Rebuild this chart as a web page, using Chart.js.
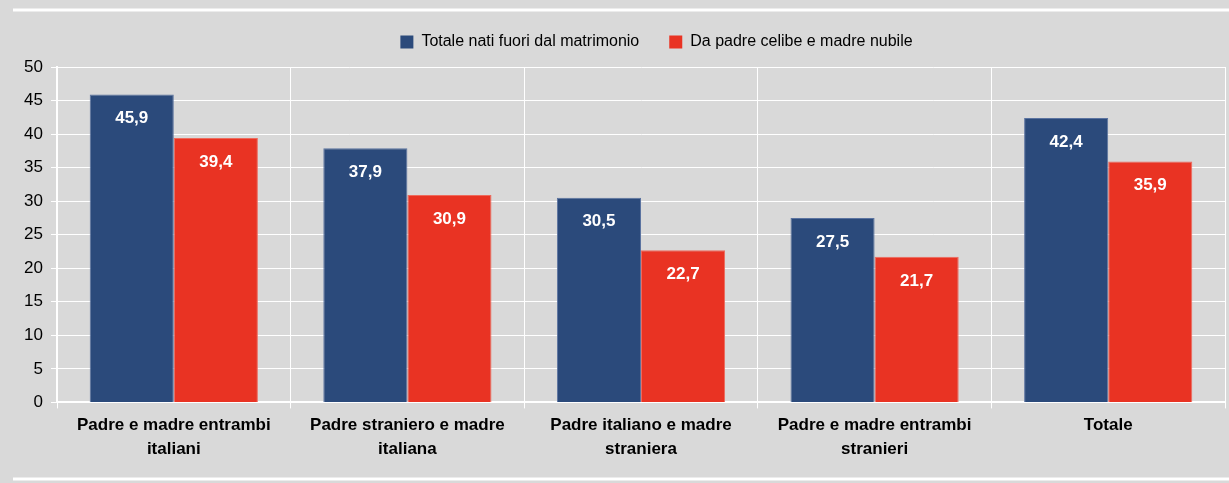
<!DOCTYPE html>
<html>
<head>
<meta charset="utf-8">
<script src="https://cdn.jsdelivr.net/npm/chart.js@4/dist/chart.umd.min.js"></script>
<style>
  html, body { margin: 0; padding: 0; background: #d9d9d9; }
  #wrap { position: relative; width: 1229px; height: 483px; }
</style>
</head>
<body>
<div id="wrap"><canvas id="bar-chart" width="1229" height="483"></canvas></div>
<script>
const categories = [
  ["Padre e madre entrambi", "italiani"],
  ["Padre straniero e madre", "italiana"],
  ["Padre italiano e madre", "straniera"],
  ["Padre e madre entrambi", "stranieri"],
  "Totale"
];
const seriesNames = ["Totale nati fuori dal matrimonio", "Da padre celibe e madre nubile"];
const totaleNati = [45.9, 37.9, 30.5, 27.5, 42.4];
const celibeNubile = [39.4, 30.9, 22.7, 21.7, 35.9];
const yTicks = [0, 5, 10, 15, 20, 25, 30, 35, 40, 45, 50];

const FONT = "'Liberation Sans', Arial, sans-serif";

// sfondo grigio e righe bianche sopra e sotto
const backdrop = {
  id: "backdrop",
  beforeDraw(chart) {
    const c = chart.ctx;
    c.save();
    c.fillStyle = "#d9d9d9";
    c.fillRect(0, 0, chart.width, chart.height);
    c.strokeStyle = "#ffffff";
    c.lineWidth = 3;
    c.beginPath();
    c.moveTo(13, 10); c.lineTo(chart.width, 10);
    c.moveTo(13, 479); c.lineTo(chart.width, 479);
    c.stroke();
    c.restore();
  }
};

// altezza fissa della legenda e leggero spostamento a destra
const legendFit = {
  id: "legendFit",
  beforeLayout(chart) {
    const lg = chart.legend;
    if (lg && !lg._patched) {
      lg._patched = true;
      const origFit = lg.fit;
      lg.fit = function () { origFit.call(this); this.height = 63; };
    }
  },
  afterLayout(chart) {
    if (chart.legend) {
      chart.legend.left += 40;
      chart.legend.right += 40;
    }
  }
};

// etichette dei valori dentro le barre
const valueLabels = {
  id: "valueLabels",
  afterDatasetsDraw(chart) {
    const c = chart.ctx;
    c.save();
    c.fillStyle = "#ffffff";
    c.font = "bold 17px " + FONT;
    c.textAlign = "center";
    c.textBaseline = "middle";
    chart.data.datasets.forEach((ds, i) => {
      chart.getDatasetMeta(i).data.forEach((bar, j) => {
        c.fillText(ds.data[j].toFixed(1).replace(".", ","), bar.x, bar.y + 24);
      });
    });
    c.restore();
  }
};

new Chart(document.getElementById("bar-chart"), {
  type: "bar",
  data: {
    labels: categories,
    datasets: [
      { label: seriesNames[0], data: totaleNati, backgroundColor: "#2b4a7b", borderColor: "#5b73a0", borderWidth: 1, categoryPercentage: 0.72, barPercentage: 1 },
      { label: seriesNames[1], data: celibeNubile, backgroundColor: "#e93323", borderColor: "#ee6a5c", borderWidth: 1, categoryPercentage: 0.72, barPercentage: 1 }
    ]
  },
  options: {
    responsive: false,
    animation: false,
    devicePixelRatio: 1,
    layout: { padding: { left: 8, right: 4, top: 4, bottom: 17 } },
    plugins: {
      legend: {
        display: true,
        position: "top",
        labels: {
          color: "#000000",
          font: { family: FONT, size: 16 },
          boxWidth: 13,
          boxHeight: 13,
          padding: 30,
          generateLabels(chart) {
            return chart.data.datasets.map((ds, i) => ({
              text: ds.label,
              fillStyle: ds.backgroundColor,
              strokeStyle: ds.backgroundColor,
              lineWidth: 0,
              datasetIndex: i
            }));
          }
        }
      },
      tooltip: { enabled: false }
    },
    scales: {
      x: {
        grid: { display: true, offset: true, color: "#ffffff", lineWidth: 1, tickLength: 6 },
        border: { color: "#ffffff", width: 2 },
        ticks: { color: "#000000", font: { family: FONT, size: 17, weight: "bold", lineHeight: 1.4 }, padding: 5, maxRotation: 0 }
      },
      y: {
        min: 0,
        max: 50,
        afterBuildTicks(scale) { scale.ticks = yTicks.map(v => ({ value: v })); },
        afterFit(scale) { scale.width = 49; },
        grid: { color: "#ffffff", lineWidth: 1, tickLength: 6 },
        border: { color: "#ffffff", width: 2 },
        ticks: { color: "#000000", font: { family: FONT, size: 17 }, padding: 8 }
      }
    }
  },
  plugins: [backdrop, legendFit, valueLabels]
});
</script>
</body>
</html>
